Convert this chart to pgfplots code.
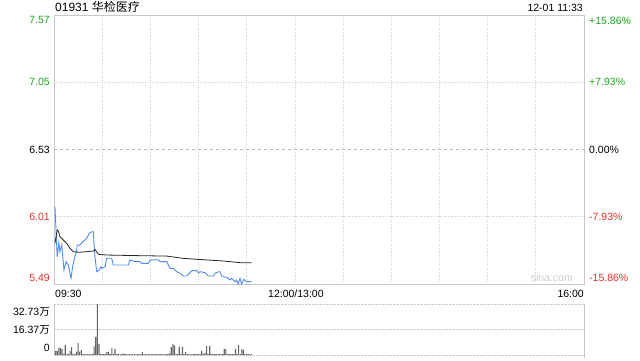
\documentclass[border=0pt]{standalone}
\usepackage{fontspec}
\setmainfont{Liberation Sans}
\newfontfamily\cjk{Noto Sans CJK SC}
\usepackage{pgfplots}
\pgfplotsset{compat=1.18}
\definecolor{cgreen}{RGB}{30,165,30}
\definecolor{cred}{RGB}{235,45,45}
\definecolor{cblue}{RGB}{80,138,235}
\definecolor{cbar}{RGB}{100,100,100}
\definecolor{cborder}{RGB}{200,200,200}
\definecolor{cgrid}{RGB}{205,205,205}
\begin{document}
\begin{tikzpicture}[font=\fontsize{10.5}{12}\selectfont]
\path[use as bounding box] (0,0) rectangle (640pt,360pt);
\node[anchor=west,inner sep=0,font=\fontsize{12}{14}\selectfont] at (55pt,353pt) {01931 {\cjk 华检医疗}};
\node[anchor=east,inner sep=0] at (583pt,352.5pt) {12-01 11:33};
\begin{axis}[
  at={(54pt,76pt)}, anchor=south west,
  scale only axis, width=530pt, height=269pt,
  xmin=0, xmax=330, ymin=5.49, ymax=7.57,
  xtick={0,30,...,330}, ytick={5.49,6.01,7.05,7.57},
  extra y ticks={6.53}, extra y tick labels={},
  extra y tick style={grid style={dashed, gray!55}},
  xticklabels={}, yticklabels={},
  major tick length=0pt,
  grid=major,
  grid style={dotted, cgrid, line width=0.7pt},
  axis line style={cborder, line width=0.8pt},
  clip=false,
]
\addplot[cblue, line width=0.9pt] coordinates {
(0.6,6.088) (2,5.701) (3,5.807) (3.7,5.74) (4.8,5.792) (6.2,5.598) (7.5,5.663)
(8.9,5.637) (10.6,5.534) (11.6,5.624) (13,5.701) (14,5.74) (14.5,5.792) (16,5.79)
(17.9,5.817) (19.3,5.83) (20.3,5.843) (21.4,5.868) (22,5.882) (23.5,5.894) (24.5,5.894)
(24.9,5.804) (25.5,5.70) (26.6,5.585) (28.2,5.598) (29.3,5.624) (29.7,5.611) (31.8,5.624)
(32.8,5.689) (35.9,5.689) (36.9,5.637) (46.3,5.637) (47.3,5.676) (50.4,5.663) (53.5,5.663)
(54.6,5.65) (58.7,5.65) (59.8,5.676) (65,5.676) (66,5.663) (70.2,5.663) (71.2,5.637)
(72.2,5.611) (74.3,5.611) (76.4,5.585) (78.5,5.573) (80.6,5.552) (82.7,5.552) (85.8,5.593)
(88.9,5.593) (89.9,5.577) (91,5.585) (94.1,5.577) (96.2,5.552) (99.3,5.552) (100.3,5.573)
(102.4,5.585) (103.4,5.585) (104.4,5.552) (106.5,5.542) (107.5,5.542) (109.6,5.521)
(110.6,5.534) (112.7,5.508) (113.7,5.521) (114.7,5.49) (115.8,5.534) (116.8,5.49)
(118.2,5.526) (119.9,5.508) (123,5.508)
};
\addplot[black!85, line width=0.8pt] coordinates {
(0.6,5.805) (2,5.908) (2.7,5.90) (3.7,5.856) (5.8,5.83) (7.9,5.804) (10,5.766) (12,5.74)
(16,5.735) (24.5,5.745) (25.5,5.758) (27.6,5.72) (32.8,5.714) (53.5,5.709) (70.2,5.706)
(80.6,5.688) (95.1,5.676) (105.5,5.668) (115.8,5.655) (123,5.655)
};
% left labels
\node[anchor=north east,inner sep=0,text=cgreen] at ([xshift=-4pt,yshift=-1.5pt]axis cs:0,7.57) {7.57};
\node[anchor=east,inner sep=0,text=cgreen] at ([xshift=-4pt]axis cs:0,7.05) {7.05};
\node[anchor=east,inner sep=0,text=black] at ([xshift=-4pt]axis cs:0,6.53) {6.53};
\node[anchor=east,inner sep=0,text=cred] at ([xshift=-4pt]axis cs:0,6.01) {6.01};
\node[anchor=south east,inner sep=0,text=cred] at ([xshift=-4pt,yshift=2pt]axis cs:0,5.49) {5.49};
% right labels
\node[anchor=north west,inner sep=0,text=cgreen] at ([xshift=5pt,yshift=-1.5pt]axis cs:330,7.57) {+15.86\%};
\node[anchor=west,inner sep=0,text=cgreen] at ([xshift=5pt]axis cs:330,7.05) {+7.93\%};
\node[anchor=west,inner sep=0,text=black] at ([xshift=5pt]axis cs:330,6.53) {0.00\%};
\node[anchor=west,inner sep=0,text=cred] at ([xshift=5pt]axis cs:330,6.01) {-7.93\%};
\node[anchor=south west,inner sep=0,text=cred] at ([xshift=5pt,yshift=2pt]axis cs:330,5.49) {-15.86\%};
% time labels
\node[anchor=west,inner sep=0] at ([xshift=1pt,yshift=-10pt]axis cs:0,5.49) {09:30};
\node[anchor=center,inner sep=0] at ([xshift=1pt,yshift=-10pt]axis cs:150,5.49) {12:00/13:00};
\node[anchor=east,inner sep=0] at ([yshift=-10pt]axis cs:330,5.49) {16:00};
\node[anchor=south east,inner sep=0,text=gray!40] at ([xshift=-11pt,yshift=2pt]axis cs:330,5.49) {sina.com};
\end{axis}
\begin{axis}[
  at={(54pt,5pt)}, anchor=south west,
  scale only axis, width=530pt, height=51pt,
  xmin=0, xmax=330, ymin=0, ymax=32.73,
  xtick=\empty, ytick={0,16.37,32.73}, yticklabels={},
  major tick length=0pt,
  ymajorgrids,
  grid style={densely dotted, cgrid, line width=0.9pt},
  axis line style={draw=none},
  clip=false,
]
\draw[cborder, line width=0.8pt] (axis cs:0,0) -- (axis cs:0,32.73);
\draw[cborder, line width=0.8pt] ([yshift=-3pt]axis cs:330,0) -- (axis cs:330,32.73);
\addplot[ybar, bar width=1.1pt, fill=cbar, draw=none] coordinates {
(1,2.6) (2,2.6) (3,4.8) (4,4.4) (5,3.7) (6,0.8) (7,6.5) (8,0.7) (9,0.6) (10,2.6)
(11,5.0) (12,0.7) (13,0.6) (14,2.2) (15,7.6) (16,2.2) (17,3.3) (18,0.6) (19,0.5) (20,0.4)
(21,0.5) (22,0.4) (23,0.6) (24,0.5) (25,5.5) (26,11.6) (27,32.73) (28,7.2) (29,0.8) (30,0.6)
(31,0.5) (32,0.6) (33,1.8) (34,2.0) (35,0.6) (36,4.4) (37,0.5) (38,3.7) (39,0.6) (40,0.5)
(41,0.4) (42,0.5) (43,1.0) (44,0.5) (45,0.6) (46,0.4) (47,0.5) (48,0.4) (49,0.5) (50,0.6)
(51,0.4) (52,0.5) (53,0.4) (54,0.5) (55,1.8) (56,0.5) (57,0.4) (58,0.5) (59,0.6) (60,0.4)
(61,0.5) (62,0.4) (63,0.5) (64,0.5) (65,0.4) (66,0.6) (67,0.5) (68,0.4) (69,0.5) (70,0.6)
(71,0.5) (72,1.0) (73,5.0) (74,7.2) (75,6.1) (76,0.8) (77,0.6) (78,5.2) (79,0.7) (80,5.2)
(81,0.8) (82,2.0) (83,0.6) (84,0.5) (85,0.4) (86,0.6) (87,0.5) (88,0.5) (89,0.6) (90,0.5)
(91,0.7) (92,2.6) (93,0.6) (94,1.3) (95,5.9) (96,0.7) (97,5.9) (98,0.6) (99,0.5) (100,0.6)
(101,0.5) (102,0.6) (103,0.5) (104,0.7) (105,0.6) (106,3.9) (107,3.9) (108,0.6) (109,0.5) (110,0.6)
(111,0.5) (112,0.6) (113,3.9) (114,0.7) (115,6.5) (116,0.6) (117,3.9) (118,3.3) (119,0.6) (120,0.5)
(121,0.6) (122,0.4) (123,0.5)
};
\node[anchor=north east,inner sep=0] at ([xshift=-4pt,yshift=-3pt]axis cs:0,32.73) {32.73{\cjk 万}};
\node[anchor=east,inner sep=0] at ([xshift=-4pt]axis cs:0,16.37) {16.37{\cjk 万}};
\node[anchor=south east,inner sep=0] at ([xshift=-4pt,yshift=3pt]axis cs:0,0) {0};
\end{axis}
\end{tikzpicture}
\end{document}
